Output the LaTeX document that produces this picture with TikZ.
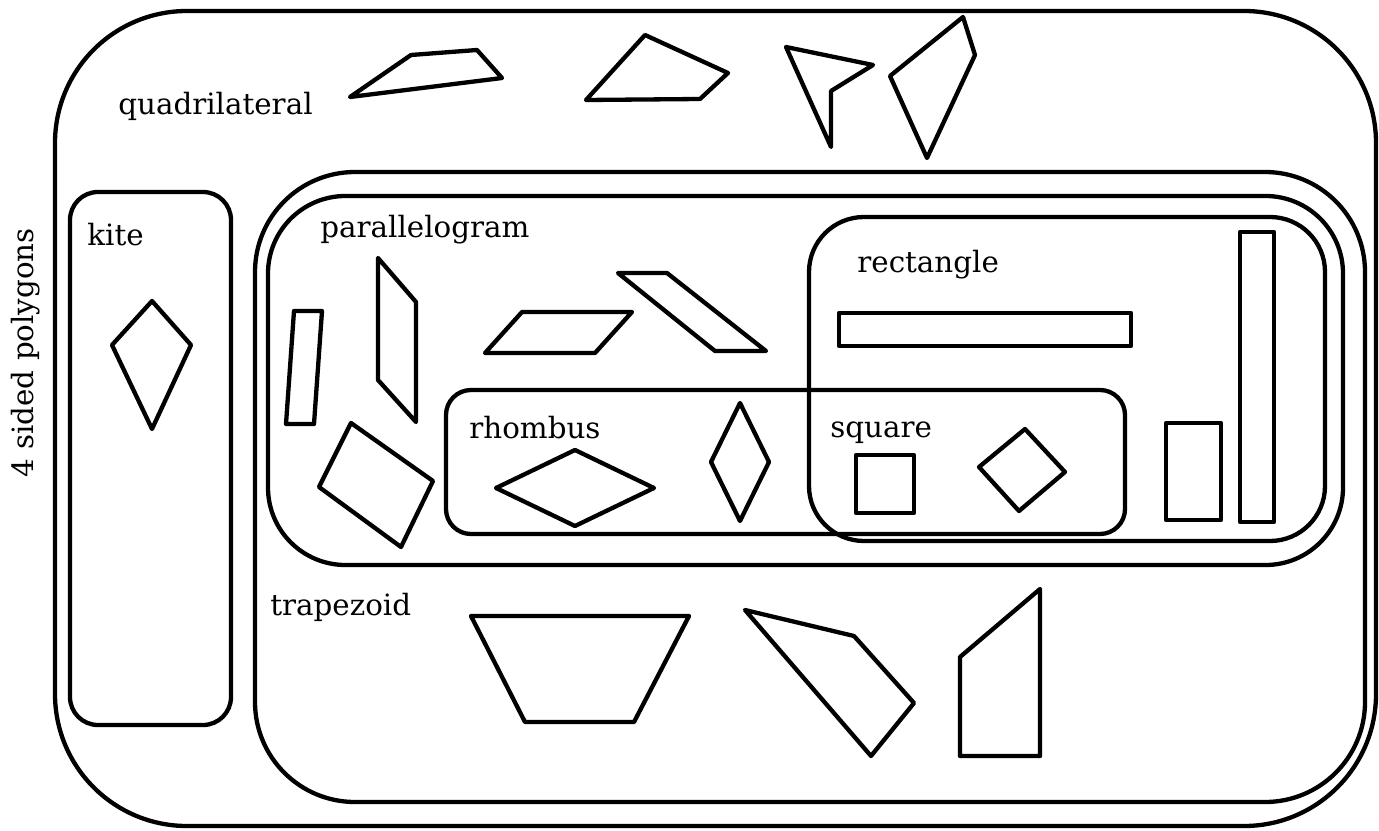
\documentclass[tikz,border=0pt]{standalone}
\usepackage{fontspec}
\setmainfont{DejaVu Serif}
\usepackage{tikz}
\usetikzlibrary{positioning}
\tikzset{
  setbox/.style={line width=2.45pt},
  poly/.style={line width=2.45pt,line join=round},
  lbl/.style={font=\fontsize{16.7}{20}\selectfont,inner sep=0pt,anchor=base west}
}

\begin{document}
\begin{tikzpicture}[x=0.02cm,y=-0.02cm]
        \useasboundingbox (0,0) rectangle (1379,831);
        % nested sets
        \draw[setbox,rounded corners=2.64cm] (55,11) rectangle (1376,826);
        \draw[setbox,rounded corners=0.56cm] (70,192) rectangle (231,725);
        \draw[setbox,rounded corners=2cm] (255,172) rectangle (1365,802);
        \draw[setbox,rounded corners=1.55cm] (268,196) rectangle (1343,565);
        \draw[setbox,rounded corners=1.1cm] (809,217) rectangle (1325,541);
        \draw[setbox,rounded corners=0.5cm] (446,390) rectangle (1125,534);
        % labels
        \node[lbl,rotate=90] (poly) at (33,478) {4 sided polygons};
        \node[lbl] (quad) at (118,115) {quadrilateral};
        \node[lbl] (kite) at (87,246) {kite};
        \node[lbl] (para) at (320,237) {parallelogram};
        \node[lbl] (rect) at (857,273) {rectangle};
        \node[lbl] (rhomb) at (469,438) {rhombus};
        \node[lbl] (sq) at (830,437) {square};
        \node[lbl] (trap) at (270,615) {trapezoid};
        % quadrilaterals
        \draw[poly] (350,97)--(411,55)--(477,50)--(502,78)--cycle;
        \draw[poly] (586,100)--(645,35)--(728,73)--(700,99)--cycle;
        \draw[poly] (786,47)--(873,65)--(831,91)--(831,147)--cycle;
        \draw[poly] (890,76)--(963,17)--(975,55)--(927,158)--cycle;
        % kite
        \draw[poly] (152,301)--(191,345)--(152,429)--(112,345)--cycle;
        % parallelograms
        \draw[poly] (294,311)--(322,311)--(314,424)--(286,424)--cycle;
        \draw[poly] (378,258)--(416,302)--(416,422)--(378,380)--cycle;
        \draw[poly] (351,423)--(433,481)--(401,547)--(319,487)--cycle;
        \draw[poly] (522,312)--(632,312)--(595,353)--(485,353)--cycle;
        \draw[poly] (618,273)--(667,273)--(766,351)--(715,351)--cycle;
        % rhombi
        \draw[poly] (496,488)--(575,450)--(654,488)--(575,526)--cycle;
        \draw[poly] (740,403)--(769,462)--(740,521)--(711,462)--cycle;
        % rectangles
        \draw[poly] (839,313) rectangle (1131,346);
        \draw[poly] (1240,232) rectangle (1274,522);
        \draw[poly] (1166,423) rectangle (1221,520);
        % squares
        \draw[poly] (856,455) rectangle (914,513);
        \draw[poly] (979,467)--(1025,429)--(1065,472)--(1019,511)--cycle;
        % trapezoids
        \draw[poly] (471,616)--(689,616)--(634,722)--(525,722)--cycle;
        \draw[poly] (745,610)--(854,636)--(914,703)--(871,756)--cycle;
        \draw[poly] (960,657)--(1040,589)--(1040,756)--(960,756)--cycle;
      \end{tikzpicture}
\end{document}
